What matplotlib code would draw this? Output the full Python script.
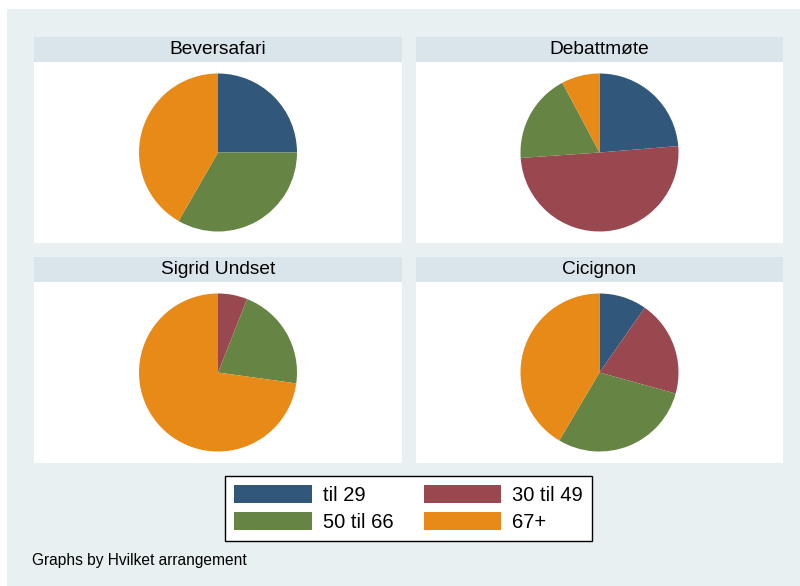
import matplotlib.pyplot as plt
from matplotlib.patches import Patch

plt.rcParams['font.family'] = ['Liberation Sans', 'DejaVu Sans']

# andel (%) per aldersgruppe for hvert arrangement
arrangement = ["Beversafari", "Debattmøte", "Sigrid Undset", "Cicignon"]
til_29 = [25.0, 23.7, 0.0, 9.7]
til_30_49 = [0.0, 50.2, 6.0, 19.6]
til_50_66 = [33.3, 18.3, 21.2, 29.2]
over_67 = [41.7, 7.8, 72.8, 41.5]
grupper = ["til 29", "30 til 49", "50 til 66", "67+"]
farger = ["#31587b", "#994850", "#668443", "#e78a17"]

W, H = 800, 586
bg = "#e8f0f2"
band = "#d9e5ea"

fig = plt.figure(figsize=(W / 100, H / 100), dpi=100)
fig.patch.set_facecolor("white")


def px(x0, y0, x1, y1):
    # pikselboks (fra toppen) -> figurkoordinater
    return [x0 / W, 1 - y1 / H, (x1 - x0) / W, (y1 - y0) / H]


# bakgrunn
bgax = fig.add_axes(px(7, 9, W, H))
bgax.set_facecolor(bg)
bgax.set_xticks([])
bgax.set_yticks([])
for s in bgax.spines.values():
    s.set_visible(False)

paneler = [(34, 37, 402, 243), (416, 37, 783, 243),
           (34, 257, 402, 463), (416, 257, 783, 463)]

for i, navn in enumerate(arrangement):
    x0, y0, x1, y1 = paneler[i]
    # tittelbånd
    tax = fig.add_axes(px(x0, y0, x1, y0 + 25))
    tax.set_facecolor(band)
    tax.set_xticks([])
    tax.set_yticks([])
    for s in tax.spines.values():
        s.set_visible(False)
    tax.text(0.5, 0.5, navn, ha="center", va="center", fontsize=13.8, color="black")

    ax = fig.add_axes(px(x0, y0 + 25, x1, y1))
    ax.set_facecolor("white")
    verdier = [til_29[i], til_30_49[i], til_50_66[i], over_67[i]]
    ax.pie(verdier, colors=farger, startangle=90, counterclock=False, radius=79,
           wedgeprops=dict(linewidth=0), frame=True)
    w = (x1 - x0) / 2
    h = (y1 - y0 - 25) / 2
    ax.set_xlim(-w, w)
    ax.set_ylim(-h, h)
    ax.set_aspect("equal")
    ax.set_xticks([])
    ax.set_yticks([])
    for s in ax.spines.values():
        s.set_visible(False)

# legenden fylles radvis som i Stata
handles = [Patch(facecolor=c, edgecolor="none") for c in farger]
rekke = [0, 2, 1, 3]
leg = fig.legend([handles[k] for k in rekke], [grupper[k] for k in rekke],
                 ncol=2, loc="center",
                 bbox_to_anchor=((224 + 593) / 2 / W, 1 - (476 + 541) / 2 / H),
                 fontsize=14.5, frameon=True, fancybox=False, edgecolor="black",
                 framealpha=1, handlelength=3.85, handleheight=1.0,
                 handletextpad=0.55, columnspacing=1.5, labelspacing=0.38,
                 borderpad=0.45, borderaxespad=0)
leg.get_frame().set_linewidth(1.0)
leg.get_frame().set_facecolor("white")

fig.text(32 / W, 1 - 561 / H, "Graphs by Hvilket arrangement", fontsize=11.2,
         va="center", ha="left")

fig.savefig("out.png", dpi=100, facecolor=fig.get_facecolor())
